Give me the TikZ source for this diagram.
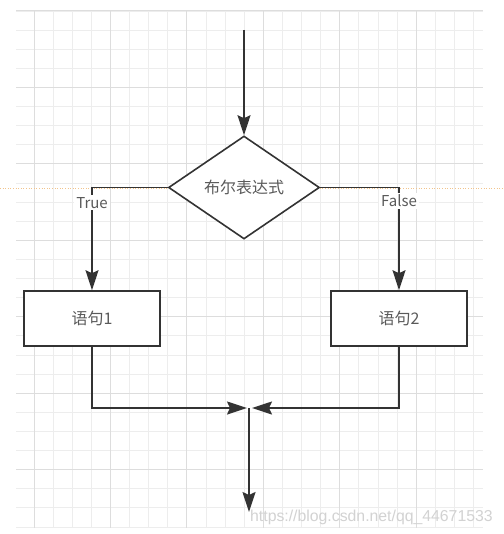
\documentclass[tikz,border=0pt]{standalone}
\usepackage{fontspec}
\setmainfont{Noto Sans CJK SC}
\newfontfamily\urlfont{Liberation Sans}
\usepackage{xcolor}
\usetikzlibrary{shapes.geometric,arrows.meta}
\definecolor{linegray}{HTML}{333333}
\definecolor{txtgray}{HTML}{5A5A5A}
\definecolor{gridminor}{HTML}{EDEDED}
\definecolor{gridmajor}{HTML}{DDDDDD}
\definecolor{guideorange}{HTML}{F2C48C}

\begin{document}
\begin{tikzpicture}[
    x=1pt, y=-1pt,
    decision/.style={diamond, aspect=1.47, draw=linegray, fill=white, line width=1.6pt, minimum width=151pt, minimum height=103pt, inner sep=0pt, text=txtgray, font=\fontsize{16}{19}\selectfont},
    block/.style={rectangle, draw=linegray, fill=white, line width=1.6pt, minimum width=136pt, minimum height=55pt, text=txtgray, font=\fontsize{16}{19}\selectfont},
    arrow/.style={-{Stealth[length=20pt, width=13pt, inset=3pt]}, draw=linegray, line width=1.6pt},
    link/.style={draw=linegray, line width=1.6pt},
    lbl/.style={fill=white, inner sep=2pt, text=txtgray, font=\fontsize{15}{18}\selectfont},
    minor/.style={draw=gridminor, line width=0.9pt},
    major/.style={draw=gridmajor, line width=1pt},
    guide/.style={draw=guideorange, dotted, line width=0.6pt},
    wmark/.style={text=gray!35, inner sep=0pt, font=\urlfont\fontsize{15.8}{18}\selectfont}
]
\useasboundingbox[fill=white] (0,0) rectangle (503,534);

% Background grid
\foreach \k in {0,...,27} \draw[minor] (16,{11+19.11*\k}) -- (483,{11+19.11*\k});
\foreach \k in {0,...,23} \draw[minor] ({34+19.11*\k},11) -- ({34+19.11*\k},528);
\foreach \k in {0,4,...,24} \draw[major] (16,{11+19.11*\k}) -- (483,{11+19.11*\k});
\foreach \k in {0,4,...,20} \draw[major] ({34+19.11*\k},11) -- ({34+19.11*\k},528);
\draw[guide] (0,188) -- (503,188);

% Flow nodes
\node[decision] (cond) at (244,187.5) {布尔表达式};
\node[block] (stmtA) at (92,318.5) {语句1};
\node[block] (stmtB) at (399,318.5) {语句2};

% Free ends
\coordinate (entry) at (244,30);
\coordinate (joinL) at (247,408);
\coordinate (joinR) at (252,408);
\coordinate (joinC) at (249,408);
\coordinate (exit) at (249,512);

% Arrows
\draw[arrow] (entry) -- (cond.north);
\draw[arrow] (cond.west) -| node[lbl, pos=0.575] {True} (stmtA.north);
\draw[arrow] (cond.east) -| node[lbl, pos=0.565] {False} (stmtB.north);
\draw[arrow] (stmtA.south) |- (joinL);
\draw[arrow] (stmtB.south) |- (joinR);
\draw[arrow] (joinC) -- (exit);

% Watermark
\node[wmark, anchor=west] (url) at (250,517) {https://blog.csdn.net/qq\_44671533};

\end{tikzpicture}
\end{document}
